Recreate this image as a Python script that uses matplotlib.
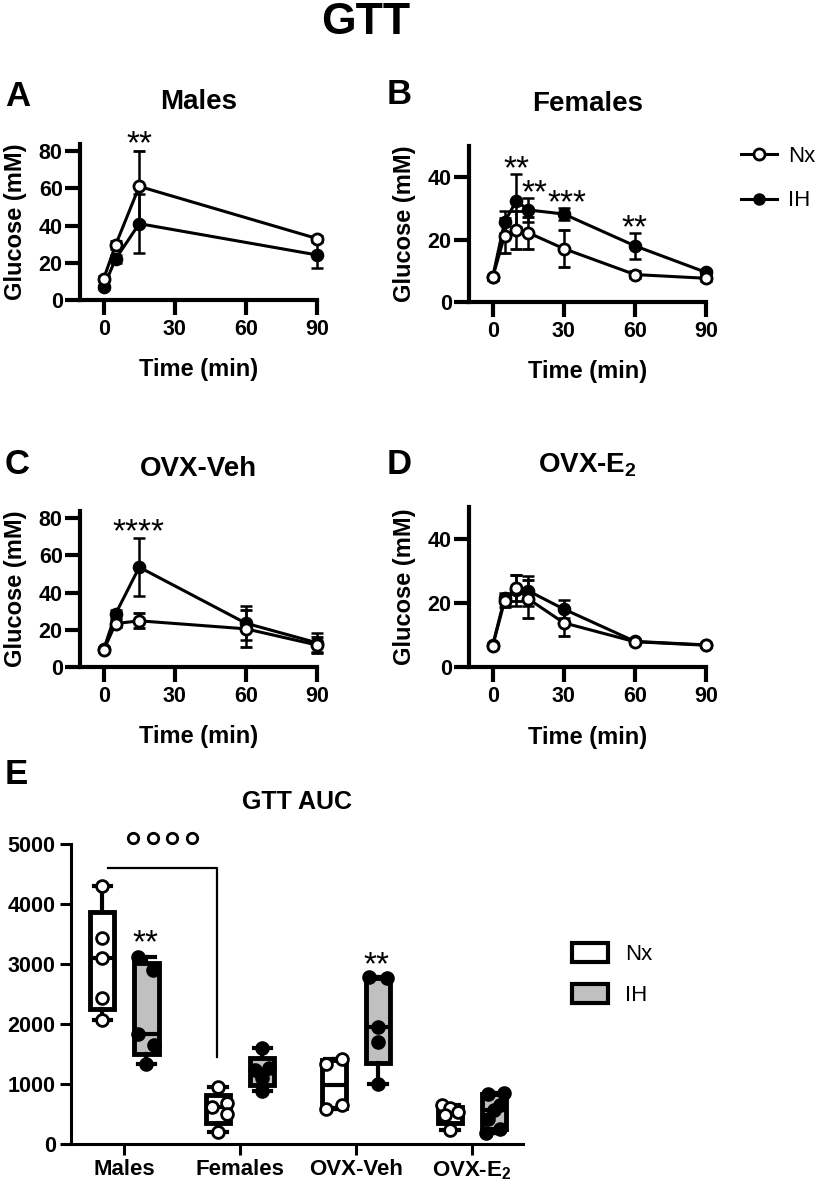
import numpy as np
import matplotlib.pyplot as plt
from matplotlib.lines import Line2D
from matplotlib.patches import Patch

plt.rcParams['font.family'] = ['Liberation Sans', 'DejaVu Sans']
plt.rcParams['font.weight'] = 'bold'
plt.rcParams['axes.titleweight'] = 'bold'
plt.rcParams['axes.labelweight'] = 'bold'
plt.rcParams['mathtext.default'] = 'regular'

# ---- GTT time courses (mean, SD) ----
t_males = [0, 5, 15, 90]
males_nx = [11.5, 29.5, 61.0, 33.0]
males_nx_sd = [1.5, 2.0, 19.0, 1.5]
males_ih = [7.0, 22.0, 41.0, 24.2]
males_ih_sd = [1.0, 2.0, 16.0, 7.0]

t_fem = [0, 5, 10, 15, 30, 60, 90]
fem_nx = [7.9, 21.3, 23.2, 22.2, 17.1, 8.8, 7.6]
fem_nx_sd = [0.8, 5.7, 6.1, 5.1, 6.0, 1.0, 0.8]
fem_ih = [8.0, 25.7, 32.4, 29.5, 28.2, 18.0, 9.5]
fem_ih_sd = [0.8, 3.5, 8.5, 3.8, 2.0, 4.2, 0.8]

t_ovxv = [0, 5, 15, 60, 90]
ovxv_nx = [9.1, 23.3, 24.8, 20.5, 11.8]
ovxv_nx_sd = [1.0, 2.0, 4.0, 10.0, 4.5]
ovxv_ih = [9.5, 28.5, 53.6, 23.5, 13.0]
ovxv_ih_sd = [1.0, 2.0, 15.5, 9.0, 5.0]

t_ovxe = [0, 5, 10, 15, 30, 60, 90]
ovxe_nx = [6.6, 20.6, 24.7, 21.3, 13.8, 7.9, 6.8]
ovxe_nx_sd = [0.6, 2.0, 4.0, 6.0, 4.1, 0.6, 0.6]
ovxe_ih = [6.8, 21.5, 24.0, 23.8, 18.1, 8.0, 6.9]
ovxe_ih_sd = [0.6, 1.5, 4.8, 4.6, 2.8, 0.6, 0.6]

# ---- AUC individual values ----
auc_groups = ['Males', 'Females', 'OVX-Veh', 'OVX-E$_2$']
auc_nx = [[4300, 3430, 3100, 2430, 2070],
          [950, 620, 680, 500, 200],
          [1330, 1420, 580, 650],
          [650, 600, 530, 480, 230]]
auc_ih = [[3120, 2900, 1830, 1650, 1340],
          [1600, 1230, 1260, 1100, 880],
          [2780, 2760, 1950, 1700, 1000],
          [850, 830, 650, 560, 420, 250, 180]]
# horizontal scatter of the dots (pixels)
jit_nx = [[0, 0, 0, 0, 0], [0, -6, 9, 9, 0], [-8, 8, -8, 8], [-8, 0, 8, -5, 0]]
jit_ih = [[-8, 7, -8, 8, 0], [0, -7, 7, 0, 0], [-9, 9, 0, 0, 0], [10, -6, 6, 0, -6, 6, -8]]

W, H = 819, 1193


def rect(l, t, r, b):
    return [l / W, 1 - b / H, (r - l) / W, (b - t) / H]


def ftext(x, y, s, **kw):
    fig.text(x / W, 1 - y / H, s, **kw)


fig = plt.figure(figsize=(W / 100, H / 100), dpi=100)

ftext(366, 22, 'GTT', fontsize=32, ha='center', va='center')


def gtt_panel(r, t, nx, nxsd, ih, ihsd, ymax, yticks, title, stars):
    ax = fig.add_axes(r)
    ax.errorbar(t, ih, yerr=ihsd, color='k', lw=2.2, elinewidth=1.8, capsize=4.5, capthick=2,
                marker='o', ms=8, mfc='k', mec='k', mew=1.8, clip_on=False, zorder=3)
    ax.errorbar(t, nx, yerr=nxsd, color='k', lw=2.2, elinewidth=1.8, capsize=4.5, capthick=2,
                marker='o', ms=8, mfc='white', mec='k', mew=2, clip_on=False, zorder=4)
    ax.set_xlim(-10, 90)
    ax.set_ylim(0, ymax)
    ax.set_xticks([0, 30, 60, 90])
    ax.set_yticks(yticks)
    for s in ['top', 'right']:
        ax.spines[s].set_visible(False)
    for s in ['left', 'bottom']:
        ax.spines[s].set_linewidth(3)
    ax.tick_params(length=10.5, width=3, labelsize=15.5, pad=2)
    ax.tick_params(axis='x', pad=3)
    ax.set_xlabel('Time (min)', fontsize=17)
    ax.set_ylabel('Glucose (mM)', fontsize=17)
    ax.xaxis.set_label_coords(0.5, -0.37)
    ax.yaxis.set_label_coords(-0.225, 0.5)
    ax.set_title(title, fontsize=20, pad=25)
    for x, y, s in stars:
        ax.text(x, y, s, fontsize=24, fontweight='normal', ha='center', va='baseline')
    return ax


axA = gtt_panel(rect(80, 143.6, 317, 300), t_males, males_nx, males_nx_sd, males_ih, males_ih_sd,
                84, [0, 20, 40, 60, 80], 'Males', [(15, 79, '**')])
axB = gtt_panel(rect(469, 146, 706, 302), t_fem, fem_nx, fem_nx_sd, fem_ih, fem_ih_sd,
                50, [0, 20, 40], 'Females',
                [(10, 39.7, '**'), (17.7, 32, '**'), (31.3, 28.9, '***'), (60, 20.6, '**')])
axC = gtt_panel(rect(80, 510.6, 317, 667), t_ovxv, ovxv_nx, ovxv_nx_sd, ovxv_ih, ovxv_ih_sd,
                84, [0, 20, 40, 60, 80], 'OVX-Veh', [(14.8, 67.7, '****')])
axD = gtt_panel(rect(469, 507, 706, 667), t_ovxe, ovxe_nx, ovxe_nx_sd, ovxe_ih, ovxe_ih_sd,
                50, [0, 20, 40], 'OVX-E$_2$', [])

ftext(5, 96, 'A', fontsize=25, va='center')
ftext(387, 94, 'B', fontsize=25, va='center')
ftext(5, 464, 'C', fontsize=25, va='center')
ftext(387, 464, 'D', fontsize=25, va='center')

h_nx = Line2D([], [], color='k', lw=2.2, marker='o', ms=8, mfc='white', mec='k', mew=2)
h_ih = Line2D([], [], color='k', lw=2.2, marker='o', ms=8, mfc='k', mec='k')
fig.legend([h_nx, h_ih], ['Nx', 'IH'], loc='upper left', bbox_to_anchor=(741 / W, 1 - 146 / H),
           frameon=False, prop=dict(size=16, weight='normal'), handlelength=1.6,
           handletextpad=0.5, labelspacing=1.05, borderpad=0, borderaxespad=0)

# ---- AUC panel ----
axE = fig.add_axes(rect(71, 844, 523, 1144))
px = (3.44 + 0.46) / (523 - 71)
pos = np.arange(len(auc_groups))
off = 0.19
for i in range(len(auc_groups)):
    for vals, jit, p, fc, mfc in [(auc_nx[i], jit_nx[i], pos[i] - off, 'white', 'white'),
                                  (auc_ih[i], jit_ih[i], pos[i] + off, '#c0c0c0', 'k')]:
        v = np.array(vals, dtype=float)
        q1, med, q3 = np.percentile(v, [25, 50, 75], method='weibull')
        st = [dict(med=med, q1=q1, q3=q3, whislo=v.min(), whishi=v.max(), fliers=[])]
        axE.bxp(st, positions=[p], widths=0.21, patch_artist=True, capwidths=[0.15],
                boxprops=dict(facecolor=fc, edgecolor='k', linewidth=3.5),
                medianprops=dict(color='k', linewidth=3),
                whiskerprops=dict(color='k', linewidth=3),
                capprops=dict(color='k', linewidth=3), manage_ticks=False)
        axE.plot(p + np.array(jit) * px, v, 'o', ls='none', ms=8.5, mfc=mfc, mec='k', mew=2,
                 zorder=5, clip_on=False)

axE.set_xlim(-0.46, 3.44)
axE.set_ylim(0, 5000)
axE.set_yticks(np.arange(0, 5001, 1000))
axE.set_xticks(pos)
axE.set_xticklabels(auc_groups, fontsize=16)
for s in ['top', 'right']:
    axE.spines[s].set_visible(False)
for s in ['left', 'bottom']:
    axE.spines[s].set_linewidth(2.2)
axE.tick_params(length=8, width=2.2, labelsize=15.5, pad=3)
axE.tick_params(axis='x', labelsize=16)
axE.set_title('GTT AUC', fontsize=18, pad=25)

# significance marks
axE.plot([-0.14, 0.80, 0.80], [4600, 4600, 1450], color='k', lw=1.6, clip_on=False)
axE.plot([0.078, 0.25, 0.41, 0.586], [5100] * 4, 'o', ls='none', ms=7.5, mfc='white', mec='k',
         mew=2, clip_on=False)
axE.text(0.18, 3200, '**', fontsize=24, fontweight='normal', ha='center', va='baseline')
axE.text(2.18, 2830, '**', fontsize=24, fontweight='normal', ha='center', va='baseline')

ftext(5, 775, 'E', fontsize=25, va='center')

hE = [Patch(facecolor='white', edgecolor='k', lw=3), Patch(facecolor='#c0c0c0', edgecolor='k', lw=3)]
fig.legend(hE, ['Nx', 'IH'], loc='upper left', bbox_to_anchor=(572 / W, 1 - 943 / H),
           frameon=False, prop=dict(size=16, weight='normal'), handlelength=1.6, handleheight=0.95,
           handletextpad=0.8, labelspacing=0.85, borderpad=0, borderaxespad=0)

fig.savefig('out.png', dpi=100)
